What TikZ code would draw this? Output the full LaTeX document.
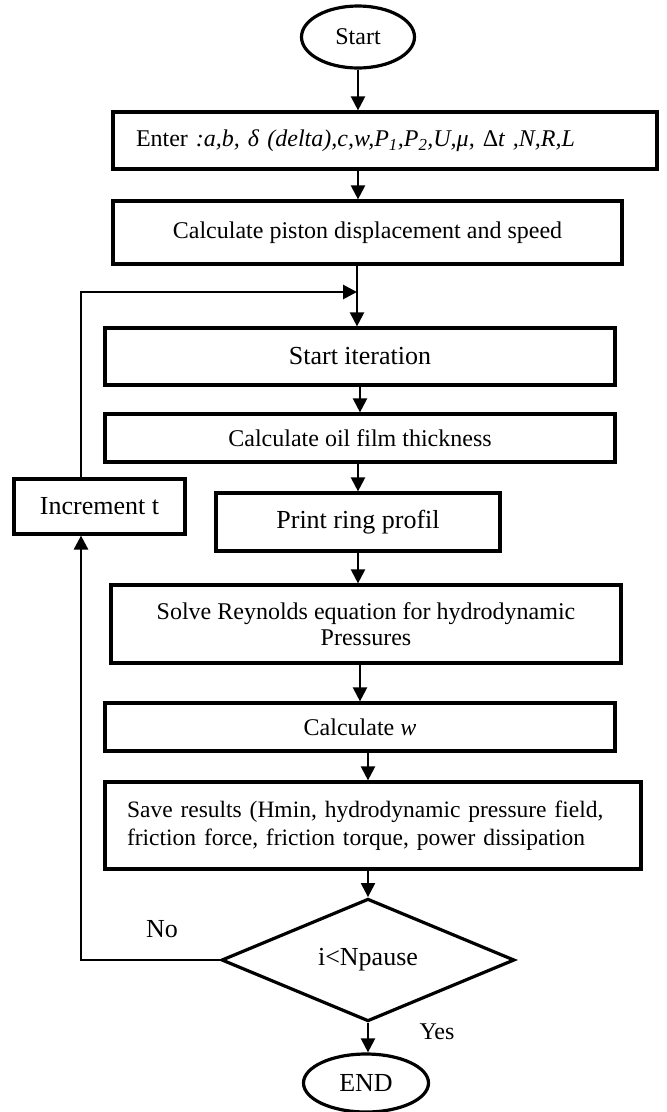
\documentclass[tikz,border=0pt]{standalone}
\usepackage{fontspec}
\setmainfont{Liberation Serif}
\usetikzlibrary{arrows.meta,shapes.geometric}
\begin{document}
\begin{tikzpicture}[x=1pt,y=-1pt,
  box/.style={draw,line width=3.2pt,rectangle,inner sep=0pt,align=center},
  oval/.style={draw,line width=3.2pt,ellipse,inner sep=0pt},
  arr/.style={line width=2.2pt,-{Triangle[width=14pt,length=14pt]}},
  loopline/.style={line width=2.8pt},
  sz/.style={font=\fontsize{24}{28}\selectfont},
  bz/.style={font=\fontsize{26}{30}\selectfont}]
\useasboundingbox (0,0) rectangle (667,1112);
\node[oval,sz,minimum width=113pt,minimum height=62pt] (start) at (358,37) {Start};
\node[box,sz,minimum height=57pt,text width=498pt,inner xsep=23pt,align=left] (enter) at (385,140.5)
  {Enter \textit{:a,b,} \textit{δ} \textit{(delta),c,w,P\textsubscript{1},P\textsubscript{2},U,μ,} Δ\textit{t ,N,R,L}};
\node[box,sz,minimum width=509pt,minimum height=63pt] (calc) at (367.5,232.5)
  {\raisebox{5pt}{Calculate piston displacement and speed}};
\node[box,bz,minimum width=510pt,minimum height=57pt] (iter) at (360,356.5) {Start iteration};
\node[box,sz,minimum width=510pt,minimum height=48pt] (oil) at (360,438) {Calculate oil film thickness};
\node[box,bz,minimum width=171pt,minimum height=55pt] (incr) at (99.5,506.5) {Increment t};
\node[box,bz,minimum width=284pt,minimum height=58pt] (print) at (358,522) {Print ring profil};
\node[box,sz,minimum width=510pt,minimum height=78pt] (reyn) at (366,624)
  {Solve Reynolds equation for hydrodynamic\\[-2pt]Pressures};
\node[box,sz,minimum width=510pt,minimum height=48pt] (calcw) at (360,727) {Calculate \textit{w}};
\node[box,font=\fontsize{23.5}{28}\selectfont,minimum height=87pt,text width=492pt,inner xsep=22pt,align=left] (save) at (373,825.5)
  {Save results (Hmin, hydrodynamic pressure field,\\friction force, friction torque, power dissipation};
\node[draw,line width=3.2pt,diamond,bz,inner sep=0pt,minimum width=293pt,minimum height=98pt] (dec) at (368,960) {i<Npause};
\node[oval,bz,minimum width=125pt,minimum height=58pt] (end) at (366,1083) {END};
\node[bz] (no) at (162,929) {No};
\node[sz] (yes) at (437,1032) {Yes};
\coordinate (join) at (357,292);
\coordinate (lx) at (81,0);
\draw[arr] (start.south) -- (start.south |- enter.north);
\draw[arr] (enter.south -| start.south) -- (calc.north -| start.south);
\draw[arr] (calc.south -| join) -- (iter.north -| join);
\draw[loopline,-{Triangle[width=14pt,length=14pt]}] (incr.north -| lx) |- (join);
\draw[arr] (iter.south) -- (oil.north);
\draw[arr] (oil.south -| print.north) -- (print.north);
\draw[arr] (print.south) -- (reyn.north -| print.south);
\draw[arr] (reyn.south -| calcw.north) -- (calcw.north);
\draw[arr] (calcw.south -| dec.north) -- (save.north -| dec.north);
\draw[arr] (save.south -| dec.north) -- (dec.north);
\draw[arr] (dec.south) -- (dec.south |- end.north);
\draw[loopline,-{Triangle[width=14pt,length=14pt]}] (dec.west) -| (incr.south -| lx);
\end{tikzpicture}
\end{document}
